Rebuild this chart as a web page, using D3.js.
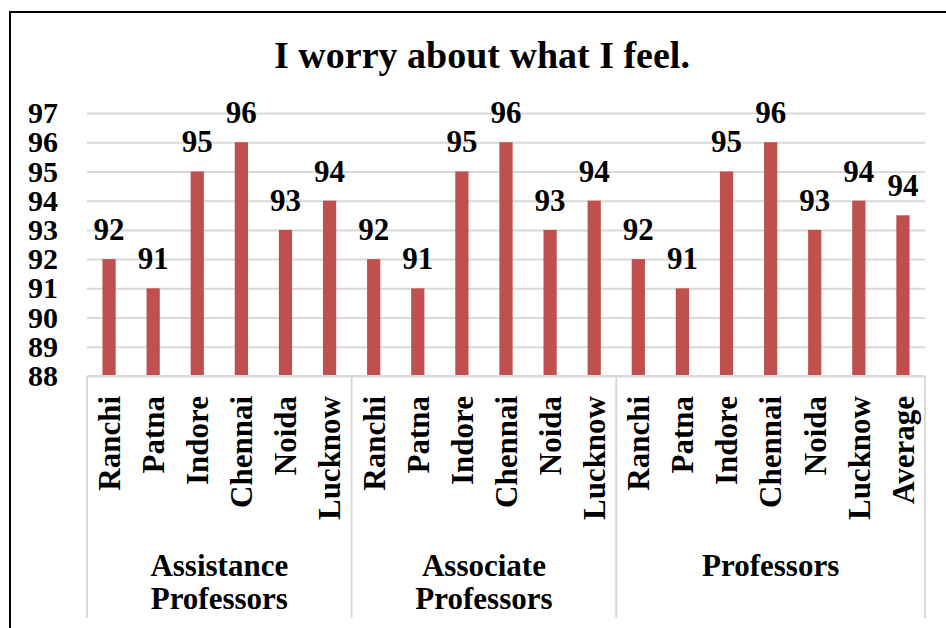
<!DOCTYPE html>
<html>
<head>
<meta charset="utf-8">
<script src="https://cdn.jsdelivr.net/npm/d3@7"></script>
<style>
  body { margin: 0; background: #fff; }
  svg { display: block; font-family: "Liberation Serif", "Times New Roman", serif; font-weight: bold; }
</style>
</head>
<body>
<div id="chart"></div>
<script>
// chart data
var title = "I worry about what I feel.";
var groupNames = [["Assistance", "Professors"], ["Associate", "Professors"], ["Professors"]];
var cities = ["Ranchi", "Patna", "Indore", "Chennai", "Noida", "Lucknow"];
var assistantValues = [92, 91, 95, 96, 93, 94];
var associateValues = [92, 91, 95, 96, 93, 94];
var professorCats = ["Ranchi", "Patna", "Indore", "Chennai", "Noida", "Lucknow", "Average"];
var professorValues = [92, 91, 95, 96, 93, 94, 93.5];
var yTicks = [88, 89, 90, 91, 92, 93, 94, 95, 96, 97];

var width = 946, height = 628;
var plot = { left: 87, right: 925, top: 113, bottom: 376 };
var serif = "Liberation Serif, Times New Roman, serif";

// flatten into one list of slots
var rows = [];
var groupSets = [
  { cats: cities, vals: assistantValues },
  { cats: cities, vals: associateValues },
  { cats: professorCats, vals: professorValues }
];
groupSets.forEach(function(g, gi) {
  g.cats.forEach(function(c, i) {
    rows.push({ id: gi + "-" + i, group: gi, cat: c, value: g.vals[i] });
  });
});

var svg = d3.select("#chart").append("svg")
  .attr("width", width)
  .attr("height", height);

// outer chart border (cropped)
svg.append("rect")
  .attr("x", 10).attr("y", 12)
  .attr("width", width + 20).attr("height", height)
  .attr("fill", "none")
  .attr("stroke", "#000")
  .attr("stroke-width", 2);

svg.append("text")
  .text(title)
  .attr("x", 482)
  .attr("y", 68)
  .attr("text-anchor", "middle")
  .attr("font-size", "38px")
  .attr("fill", "#000");

var x = d3.scaleBand()
  .domain(rows.map(function(d) { return d.id; }))
  .range([plot.left, plot.right])
  .padding(0);

var y = d3.scaleLinear()
  .domain([88, 97])
  .range([plot.bottom, plot.top]);

// gridlines
var grid = svg.append("g")
  .attr("transform", "translate(" + plot.left + ",0)")
  .call(d3.axisLeft(y).tickValues(yTicks).tickSize(-(plot.right - plot.left)).tickFormat(""));
grid.select(".domain").remove();
grid.selectAll("line").attr("stroke", "#d9d9d9").attr("stroke-width", 2);

// y tick labels
var yAxis = svg.append("g")
  .attr("transform", "translate(58,0)")
  .call(d3.axisLeft(y).tickValues(yTicks).tickSize(0).tickPadding(0));
yAxis.select(".domain").remove();
yAxis.selectAll("text")
  .attr("font-size", "30px")
  .attr("font-family", serif)
  .attr("font-weight", "bold")
  .attr("fill", "#000");

var barW = x.bandwidth() * 0.3;

svg.selectAll(".bar")
  .data(rows)
  .enter()
  .append("rect")
  .attr("class", "bar")
  .attr("x", function(d) { return x(d.id) + (x.bandwidth() - barW) / 2; })
  .attr("y", function(d) { return y(d.value); })
  .attr("width", barW)
  .attr("height", function(d) { return y(88) - y(d.value); })
  .style("fill", "#C0504D");

svg.selectAll(".val")
  .data(rows)
  .enter()
  .append("text")
  .attr("class", "val")
  .text(function(d) { return Math.round(d.value); })
  .attr("x", function(d) { return x(d.id) + x.bandwidth() / 2; })
  .attr("y", function(d) { return y(d.value) - 19; })
  .attr("text-anchor", "middle")
  .attr("font-size", "31px")
  .attr("fill", "#000");

// category axis line
svg.append("line")
  .attr("x1", plot.left).attr("x2", plot.right)
  .attr("y1", plot.bottom).attr("y2", plot.bottom)
  .attr("stroke", "#d9d9d9").attr("stroke-width", 2);

svg.selectAll(".cat")
  .data(rows)
  .enter()
  .append("text")
  .attr("class", "cat")
  .text(function(d) { return d.cat; })
  .attr("transform", function(d) {
    return "translate(" + (x(d.id) + x.bandwidth() / 2) + ",396) rotate(-90)";
  })
  .attr("dy", "0.35em")
  .attr("text-anchor", "end")
  .attr("font-size", "31px")
  .attr("fill", "#000");

// group separators and labels
var bounds = [];
groupSets.forEach(function(g, gi) {
  var ids = rows.filter(function(d) { return d.group === gi; });
  bounds.push({
    gi: gi,
    x0: x(ids[0].id),
    x1: x(ids[ids.length - 1].id) + x.bandwidth()
  });
});

var seps = [bounds[0].x0].concat(bounds.map(function(b) { return b.x1; }));
svg.selectAll(".sep")
  .data(seps)
  .enter()
  .append("line")
  .attr("class", "sep")
  .attr("x1", function(d) { return d; })
  .attr("x2", function(d) { return d; })
  .attr("y1", plot.bottom)
  .attr("y2", 618)
  .attr("stroke", "#d9d9d9")
  .attr("stroke-width", 2);

var gl = svg.selectAll(".grp")
  .data(bounds)
  .enter()
  .append("text")
  .attr("class", "grp")
  .attr("text-anchor", "middle")
  .attr("font-size", "31px")
  .attr("fill", "#000");

gl.selectAll("tspan")
  .data(function(b) {
    return groupNames[b.gi].map(function(t, i) { return { t: t, i: i, cx: (b.x0 + b.x1) / 2 }; });
  })
  .enter()
  .append("tspan")
  .attr("x", function(d) { return d.cx; })
  .attr("y", function(d) { return 576 + d.i * 33; })
  .text(function(d) { return d.t; });
</script>
</body>
</html>
